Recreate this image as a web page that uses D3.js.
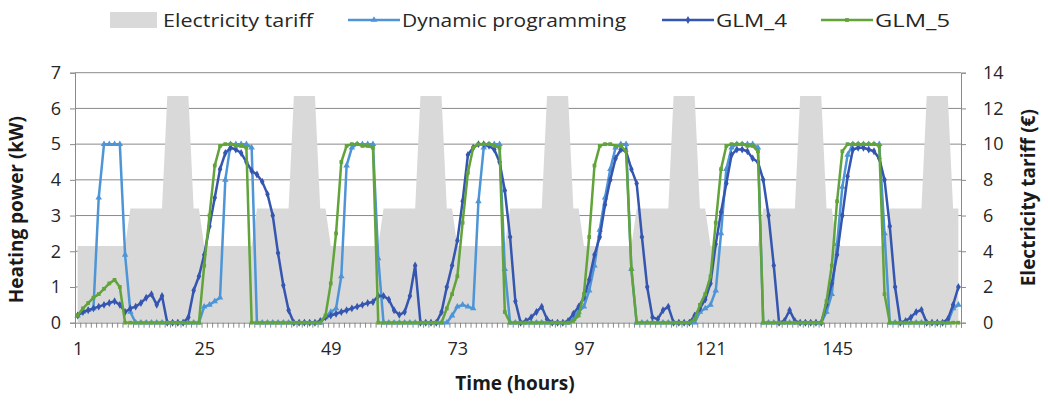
<!DOCTYPE html>
<html>
<head>
<meta charset="utf-8">
<script src="https://cdn.jsdelivr.net/npm/d3@7"></script>
<style>
  html, body { margin: 0; padding: 0; background: #ffffff; }
  svg { display: block; font-family: "Open Sans", "Noto Sans", sans-serif; }
</style>
</head>
<body>
<svg id="chart" width="1048" height="403"></svg>
<script>
// Hourly categories over one week
const hours = d3.range(1, 169);

// Electricity tariff (€), one row per day
const tariff = [
  4.3,4.3,4.3,4.3,4.3,4.3,4.3,4.3,4.3,4.3,6.4,6.4,6.4,6.4,6.4,6.4,6.4,12.7,12.7,12.7,12.7,12.7,6.4,6.4,
  4.3,4.3,4.3,4.3,4.3,4.3,4.3,4.3,4.3,4.3,6.4,6.4,6.4,6.4,6.4,6.4,6.4,12.7,12.7,12.7,12.7,12.7,6.4,6.4,
  4.3,4.3,4.3,4.3,4.3,4.3,4.3,4.3,4.3,4.3,6.4,6.4,6.4,6.4,6.4,6.4,6.4,12.7,12.7,12.7,12.7,12.7,6.4,6.4,
  4.3,4.3,4.3,4.3,4.3,4.3,4.3,4.3,4.3,4.3,6.4,6.4,6.4,6.4,6.4,6.4,6.4,12.7,12.7,12.7,12.7,12.7,6.4,6.4,
  4.3,4.3,4.3,4.3,4.3,4.3,4.3,4.3,4.3,4.3,6.4,6.4,6.4,6.4,6.4,6.4,6.4,12.7,12.7,12.7,12.7,12.7,6.4,6.4,
  4.3,4.3,4.3,4.3,4.3,4.3,4.3,4.3,4.3,4.3,6.4,6.4,6.4,6.4,6.4,6.4,6.4,12.7,12.7,12.7,12.7,12.7,6.4,6.4,
  4.3,4.3,4.3,4.3,4.3,4.3,4.3,4.3,4.3,4.3,6.4,6.4,6.4,6.4,6.4,6.4,6.4,12.7,12.7,12.7,12.7,12.7,6.4,6.4
];

// Heating power (kW), dynamic programming schedule
const dynamicProgramming = [
  0.2,0.3,0.35,0.4,3.5,5,5,5,5,1.9,0.3,0,0,0,0,0,0,0,0,0,0,0,0,0,
  0.45,0.5,0.6,0.7,4.0,5,5,5,5,4.9,0,0,0,0,0,0,0,0,0,0,0,0,0,0.15,
  0.3,0.4,1.3,4.4,4.9,5,5,5,5,1.8,0,0,0,0,0,0,0,0,0,0,0,0,0,0.2,
  0.45,0.5,0.45,0.4,3.4,4.9,5,5,5,1.5,0,0,0,0,0,0,0,0,0,0,0,0,0.1,0.3,
  0.45,0.9,1.6,2.6,3.5,4.3,4.9,5,5,1.5,0,0,0,0,0,0,0,0,0,0,0,0,0.3,0.4,
  0.5,0.9,2.5,4.3,4.9,5,5,5,5,4.9,0,0,0,0,0,0,0,0,0,0,0,0,0.3,0.8,
  2.2,3.8,4.7,5,5,5,5,5,5,2.5,0,0,0,0,0,0,0,0,0,0,0,0,0.4,0.5
];

// Heating power (kW), GLM_4 controller
const glm4 = [
  0.2,0.3,0.35,0.4,0.45,0.5,0.55,0.6,0.5,0.3,0.4,0.45,0.55,0.7,0.8,0.5,0.75,0,0,0,0,0.15,0.9,1.3,
  1.9,2.7,3.5,4.3,4.75,4.9,4.85,4.75,4.5,4.25,4.15,3.95,3.6,3.0,1.95,1.05,0.35,0,0,0,0,0,0.05,0.15,
  0.2,0.25,0.3,0.35,0.4,0.45,0.5,0.55,0.58,0.75,0.75,0.65,0.35,0.22,0.3,0.75,1.6,0,0,0,0,0.3,1.0,1.6,
  2.3,3.4,4.7,4.9,5.0,5.0,4.95,4.85,4.5,3.7,2.4,0.6,0,0.05,0.15,0.3,0.45,0.1,0,0,0,0.05,0.25,0.45,
  0.7,1.2,1.9,2.4,3.3,4.0,4.6,4.85,4.8,4.3,3.9,2.4,1.0,0.15,0.1,0.35,0.45,0,0,0,0,0.2,0.4,0.65,
  1.1,2.2,3.1,3.9,4.7,4.85,4.85,4.8,4.6,4.5,4.0,3.0,1.6,0,0.05,0.35,0.05,0,0,0,0,0,0.5,1.1,
  1.9,3.0,4.1,4.85,4.9,4.9,4.85,4.8,4.6,4.0,2.7,1.0,0,0.05,0.15,0.3,0.36,0,0,0,0,0.1,0.5,1.0
];

// Heating power (kW), GLM_5 controller
const glm5 = [
  0.2,0.4,0.55,0.7,0.8,0.95,1.1,1.2,1.0,0,0,0,0,0,0,0,0,0,0,0,0,0,0,0,
  1.6,3.0,4.4,4.95,5,5,4.95,4.95,4.9,0,0,0,0,0,0,0,0,0,0,0,0,0,0,0.2,
  1.1,2.5,4.5,4.95,5,5,4.95,4.95,4.9,0,0,0,0,0,0,0,0,0,0,0,0,0,0.4,0.8,
  1.3,2.8,4.2,4.9,5,5,5,4.95,4.9,0.3,0,0,0,0,0,0,0,0,0,0,0,0,0.05,0.2,
  0.8,2.4,4.4,4.95,5,5,4.95,4.95,4.8,1.5,0,0,0,0,0,0,0,0,0,0,0,0.1,0.5,0.8,
  1.3,2.8,4.3,4.95,5,5,5,4.95,4.95,4.8,0,0,0,0,0,0,0,0,0,0,0,0,0.6,1.6,
  3.4,4.8,5,5,5,5,5,5,4.95,0.8,0,0,0,0,0,0,0,0,0,0,0,0,0,0
];

const xTickLabels = [1, 25, 49, 73, 97, 121, 145];
const powerTicks = [0, 1, 2, 3, 4, 5, 6, 7];
const tariffTicks = [0, 2, 4, 6, 8, 10, 12, 14];

const legendItems = [
  { name: "Electricity tariff", type: "area" },
  { name: "Dynamic programming", type: "line", key: "dp" },
  { name: "GLM_4", type: "line", key: "g4" },
  { name: "GLM_5", type: "line", key: "g5" }
];

(function draw() {
  // Plot frame
  const plotLeft = 75, plotRight = 961, plotTop = 72.7, plotBottom = 322.7;
  const svg = d3.select("#chart");

  const x = d3.scaleLinear().domain([0.5, hours.length + 0.5]).range([plotLeft, plotRight]);
  const yPower = d3.scaleLinear().domain([0, 7]).range([plotBottom, plotTop]);
  const yTariff = d3.scaleLinear().domain([0, 14]).range([plotBottom, plotTop]);

  const colors = { tariff: "#d9d9d9", dp: "#4d95d6", g4: "#3556b0", g5: "#62a33a", grid: "#8a8a8a", axis: "#8a8a8a", text: "#262626" };
  const symbols = { dp: d3.symbolTriangle, g4: d3.symbolDiamond, g5: d3.symbolSquare };

  // Horizontal gridlines (behind the tariff area)
  svg.append("g").selectAll("line")
    .data(powerTicks.filter(v => v > 0))
    .join("line")
    .attr("x1", plotLeft).attr("x2", plotRight)
    .attr("y1", d => yPower(d)).attr("y2", d => yPower(d))
    .attr("stroke", colors.grid).attr("stroke-width", 1);

  // Tariff area on the secondary axis
  const area = d3.area()
    .x((d, i) => x(hours[i]))
    .y0(yTariff(0))
    .y1(d => yTariff(d));
  svg.append("path").datum(tariff)
    .attr("d", area)
    .attr("fill", colors.tariff);

  // Axes
  const axisLeft = d3.axisLeft(yPower).tickValues(powerTicks).tickSize(5).tickPadding(9).tickFormat(d3.format("d"));
  const axisRight = d3.axisRight(yTariff).tickValues(tariffTicks).tickSize(5).tickPadding(17).tickFormat(d3.format("d"));
  const boundaries = d3.range(0, hours.length + 1).map(k => k + 0.5);
  const axisMinor = d3.axisBottom(x).tickValues(boundaries).tickSize(5).tickFormat("");
  const axisLabels = d3.axisBottom(x).tickValues(xTickLabels).tickSize(0).tickPadding(20).tickFormat(d3.format("d"));

  function styleAxis(g) {
    g.select(".domain").attr("stroke", colors.axis).attr("stroke-width", 1);
    g.selectAll(".tick line").attr("stroke", colors.axis);
    g.selectAll(".tick text").attr("fill", colors.text).attr("font-size", 18)
      .attr("font-family", "\"Open Sans\", sans-serif");
  }

  svg.append("g").attr("transform", `translate(${plotLeft},0)`).call(axisLeft).call(styleAxis);
  svg.append("g").attr("transform", `translate(${plotRight},0)`).call(axisRight).call(styleAxis);
  svg.append("g").attr("transform", `translate(0,${plotBottom})`).call(axisMinor).call(styleAxis);
  svg.append("g").attr("transform", `translate(0,${plotBottom})`).call(axisLabels).call(styleAxis)
    .select(".domain").remove();

  // Power series
  const series = [
    { key: "dp", values: dynamicProgramming },
    { key: "g4", values: glm4 },
    { key: "g5", values: glm5 }
  ];
  const line = d3.line().x((d, i) => x(hours[i])).y(d => yPower(d));

  series.forEach(s => {
    const g = svg.append("g");
    g.append("path").datum(s.values)
      .attr("d", line)
      .attr("fill", "none")
      .attr("stroke", colors[s.key])
      .attr("stroke-width", 2.5)
      .attr("stroke-linejoin", "round");
    g.selectAll("path.marker")
      .data(s.values)
      .join("path")
      .attr("class", "marker")
      .attr("d", d3.symbol().type(symbols[s.key]).size(s.key === "g5" ? 14 : 18))
      .attr("transform", (d, i) => `translate(${x(hours[i])},${yPower(d)})`)
      .attr("fill", colors[s.key]);
  });

  // Axis titles
  svg.append("text")
    .attr("transform", `translate(23,${(plotTop + plotBottom) / 2 + 12}) rotate(-90)`)
    .attr("text-anchor", "middle")
    .attr("font-size", 19).attr("font-weight", "bold").attr("fill", "#1a1a1a")
    .text("Heating power (kW)");
  svg.append("text")
    .attr("transform", `translate(1035,${(plotTop + plotBottom) / 2}) rotate(-90)`)
    .attr("text-anchor", "middle")
    .attr("font-size", 19).attr("font-weight", "bold").attr("fill", "#1a1a1a")
    .text("Electricity tariff (€)");
  svg.append("text")
    .attr("x", 515).attr("y", 390)
    .attr("text-anchor", "middle")
    .attr("font-size", 19).attr("font-weight", "bold").attr("fill", "#1a1a1a")
    .text("Time (hours)");

  // Legend
  const legendX = [110, 348, 662, 821];
  const legendTextWidth = [150, 224, 71, 75];
  const legend = svg.append("g");
  legendItems.forEach((item, i) => {
    const g = legend.append("g").attr("transform", `translate(${legendX[i]},20)`);
    let textX;
    if (item.type === "area") {
      g.append("rect").attr("x", 0).attr("y", -8).attr("width", 47).attr("height", 16).attr("fill", colors.tariff);
      textX = 53;
    } else {
      g.append("line").attr("x1", 0).attr("x2", 52).attr("y1", 0).attr("y2", 0)
        .attr("stroke", colors[item.key]).attr("stroke-width", 2.5);
      g.append("path").attr("d", d3.symbol().type(symbols[item.key]).size(item.key === "g5" ? 14 : 18)())
        .attr("transform", "translate(26,0)").attr("fill", colors[item.key]);
      textX = 54;
    }
    g.append("text").attr("x", textX).attr("y", 0).attr("dy", "0.36em")
      .attr("font-size", 19).attr("fill", colors.text)
      .attr("textLength", legendTextWidth[i]).attr("lengthAdjust", "spacingAndGlyphs")
      .text(item.name);
  });
})();
</script>
</body>
</html>
